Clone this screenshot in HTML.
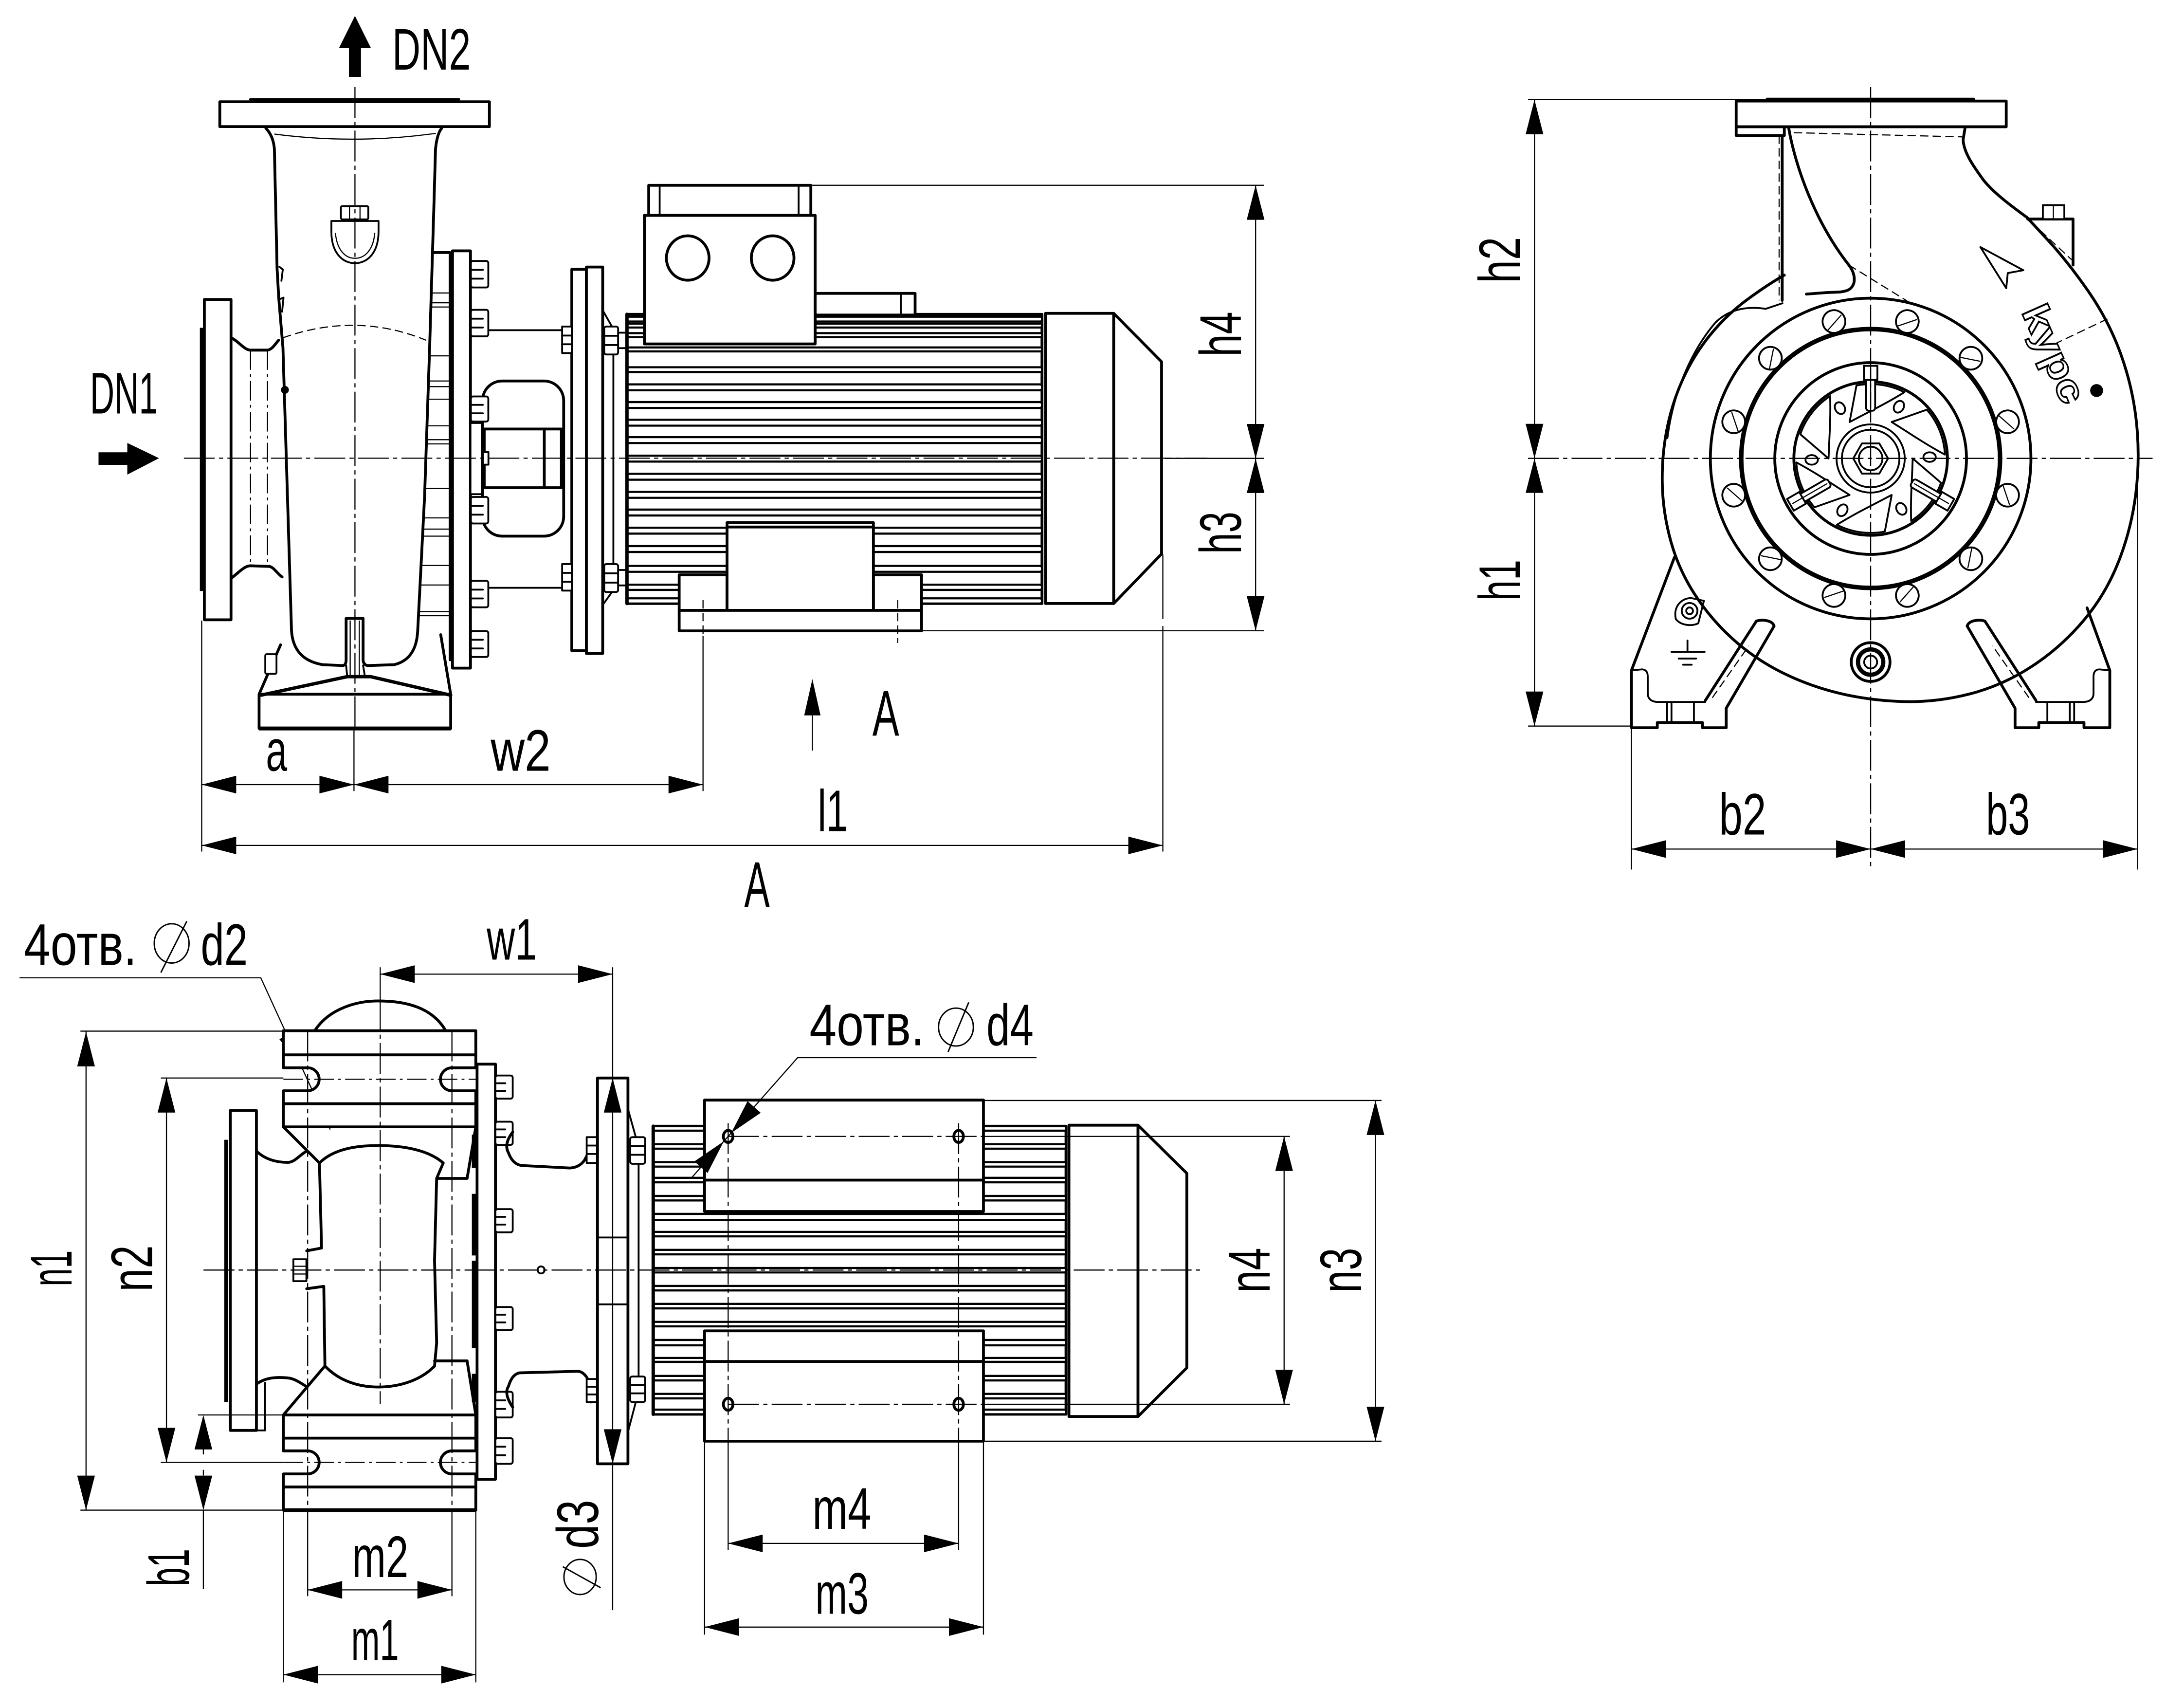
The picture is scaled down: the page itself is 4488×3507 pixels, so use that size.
<!DOCTYPE html>
<html><head><meta charset="utf-8"><title>Pump dimensions</title>
<style>
html,body{margin:0;padding:0;background:#fff;}
svg{display:block}
text{font-family:"Liberation Sans","DejaVu Sans",sans-serif;fill:#000}
.k{fill:none;stroke:#000;stroke-width:2;stroke-linejoin:round;stroke-linecap:round}
.m{fill:none;stroke:#000;stroke-width:1.3;stroke-linejoin:round;stroke-linecap:round}
.t{fill:none;stroke:#000;stroke-width:0.8}
.c{fill:none;stroke:#000;stroke-width:0.8;stroke-dasharray:22 3 3 3}
.dd{fill:none;stroke:#000;stroke-width:0.8;stroke-dasharray:6 3}
.w{fill:#fff}
.f{fill:#000;stroke:none}
</style></head><body>
<svg xmlns="http://www.w3.org/2000/svg" width="4488" height="3507" viewBox="0 0 4488 3507">
<rect width="4488" height="3507" fill="#fff"/>
<g transform="scale(2.8842)">

<!-- ================= TOP (SIDE) VIEW ================= -->
<!-- DN2 arrow & label -->
<polygon class="f" points="252.9,11.3 241.5,34.3 248.6,34.3 248.6,54.8 257.2,54.8 257.2,34.3 264.3,34.3"/>
<text x="279.4" y="49.5" font-size="42" textLength="56" lengthAdjust="spacingAndGlyphs">DN2</text>
<!-- DN1 arrow & label -->
<text x="64.1" y="294.5" font-size="42" textLength="48.3" lengthAdjust="spacingAndGlyphs">DN1</text>
<polygon class="f" points="70.2,322.2 90.7,322.2 90.7,315.5 113.3,326.4 90.7,338.1 90.7,331.1 70.2,331.1"/>

<!-- outlet flange -->
<rect class="k w" x="156.6" y="72.5" width="192.1" height="17.7"/>
<line class="k" x1="178.5" y1="70.8" x2="326.8" y2="70.8"/>
<!-- casing outline -->
<path class="k" d="M189.4,91.3 C193,95 195,100 195.5,106.1 L197.4,191 L198.6,212.3 L201.6,247.7 L207.7,449.3 C208.5,462 215,471 230,473.5 L244.1,474.1 C246,474 246.6,472 246.6,470 L246.6,440.5 L258.7,440.5 L258.7,470 C258.7,472 260,474 262,474.1 L280.6,473.5 C292,471 297,462 297.6,449.3 L302.5,353.8 L306.1,247.7 L309.3,141.5 L310.3,106.1 C311,99 312.5,94 314.7,91.3"/>
<path class="t" d="M195.5,95.5 Q253,103 310.5,95"/>
<path class="dd" d="M201.6,240.6 Q253.9,222 303.7,242.4"/>
<line class="t" x1="249.5" y1="442" x2="249.5" y2="481"/>
<line class="t" x1="256" y1="442" x2="256" y2="481"/>
<!-- drain plug on neck -->
<path class="m w" d="M236.1,157.4 L236.1,165 C236.1,180 244,187.5 252.9,187.5 C261.8,187.5 269.7,180 269.7,165 L269.7,157.4 Z"/>
<path class="t" d="M239,166 C240,178 246,184 252.9,184 C260,184 266,178 267,166"/>
<rect class="m w" x="242.9" y="146.8" width="19.5" height="9.5" rx="1"/>
<line class="t" x1="249" y1="146.8" x2="249" y2="156.3"/>
<line class="t" x1="256.5" y1="146.8" x2="256.5" y2="156.3"/>
<circle class="f" cx="203" cy="277.7" r="2.8"/>
<path class="m" d="M199,190 L201.5,192 L200.5,200"/>
<path class="m" d="M199.5,213 L202,212 L201,222"/>
<!-- inlet flange -->
<rect class="k w" x="145.6" y="213.3" width="19" height="228.2"/>
<rect class="f" x="142.4" y="233.5" width="3.2" height="187.5"/>
<path class="k" d="M164.6,240.6 C170,243 174,249.4 178.5,249.4 L190.6,249.4 C194,249 196,245 198.5,242.4"/>
<path class="k" d="M164.6,412 C170,408 174,403 178.5,403 L191.9,403.5 C195,404 197,408 201,411"/>
<line class="c" x1="178.5" y1="249.4" x2="178.5" y2="403" style="stroke-dasharray:14 3 2 3"/>
<line class="c" x1="190.6" y1="249.4" x2="190.6" y2="403" style="stroke-dasharray:14 3 2 3"/>
<!-- foot -->
<path class="k" d="M184.6,494.5 L199.9,459.3"/>
<path class="k" d="M321.1,494.5 L314,452.1"/>
<rect class="k w" x="184.6" y="494.5" width="136.5" height="24.4"/>
<line x1="184.6" y1="518.9" x2="321.1" y2="518.9" stroke="#000" stroke-width="2.8"/>
<path class="k" d="M185.9,495.2 L247.4,482 L264,482 L321.1,495.2" style="stroke-width:2.4"/>
<line class="m" x1="246.6" y1="474" x2="247.4" y2="482"/>
<line class="m" x1="258.7" y1="474" x2="260" y2="482"/>
<rect class="m w" x="189" y="466" width="8" height="14" rx="1"/>
<!-- ribbed column -->
<path class="k" d="M308.4,179.9 L320.7,179.9 L320.7,470"/>
<g class="t">
<line x1="307.2" y1="208.7" x2="320.7" y2="208.7"/><line x1="307" y1="215.7" x2="320.7" y2="215.7"/><line x1="307" y1="218.7" x2="320.7" y2="218.7"/>
<line x1="305.7" y1="253.5" x2="320.7" y2="253.5"/><line x1="305.2" y1="271.4" x2="320.7" y2="271.4"/><line x1="305" y1="275.4" x2="320.7" y2="275.4"/>
<line x1="304.8" y1="284.4" x2="320.7" y2="284.4"/><line x1="304.2" y1="303.3" x2="320.7" y2="303.3"/><line x1="303.9" y1="313.2" x2="320.7" y2="313.2"/>
<line x1="303.8" y1="316.2" x2="320.7" y2="316.2"/><line x1="302.7" y1="348" x2="320.7" y2="348"/><line x1="302" y1="368.9" x2="320.7" y2="368.9"/>
<line x1="301.6" y1="376.9" x2="320.7" y2="376.9"/><line x1="301.3" y1="381.9" x2="320.7" y2="381.9"/><line x1="300.1" y1="402.8" x2="320.7" y2="402.8"/>
<line x1="299.4" y1="416.7" x2="320.7" y2="416.7"/><line x1="298.3" y1="435.6" x2="320.7" y2="435.6"/><line x1="298.2" y1="438.6" x2="320.7" y2="438.6"/>
</g>
<!-- casing flange -->
<rect class="k w" x="322.4" y="178.7" width="12.8" height="297.2"/>
<!-- bracket / coupling window -->
<line class="m" x1="347.9" y1="235.2" x2="400.5" y2="235.2"/>
<line class="m" x1="347.9" y1="418.7" x2="400.5" y2="418.7"/>
<rect class="k w" x="343.8" y="271.4" width="57.8" height="110.5" rx="14"/>
<rect class="k w" x="345" y="305.6" width="55" height="41.8"/>
<line class="k" x1="387.8" y1="305.6" x2="387.8" y2="347.4"/>
<rect class="m w" x="335.2" y="301.3" width="8.1" height="50.7"/>
<rect class="m w" x="344" y="322" width="4" height="9"/>
<!-- bolts on casing flange -->
<g class="m">
<rect class="w" x="335.5" y="185.9" width="12.4" height="18.9" rx="1.5"/><line x1="335.5" y1="192.2" x2="344" y2="192.2"/><line x1="335.5" y1="198.5" x2="344" y2="198.5"/>
<rect class="w" x="335.5" y="220.7" width="12.4" height="18.9" rx="1.5"/><line x1="335.5" y1="227" x2="344" y2="227"/><line x1="335.5" y1="233.3" x2="344" y2="233.3"/>
<rect class="w" x="335.5" y="282.4" width="12.4" height="17.9" rx="1.5"/><line x1="335.5" y1="288.4" x2="344" y2="288.4"/><line x1="335.5" y1="294.4" x2="344" y2="294.4"/>
<rect class="w" x="335.5" y="354" width="12.4" height="18.9" rx="1.5"/><line x1="335.5" y1="360.3" x2="344" y2="360.3"/><line x1="335.5" y1="366.6" x2="344" y2="366.6"/>
<rect class="w" x="335.5" y="413.7" width="12.4" height="18.9" rx="1.5"/><line x1="335.5" y1="420" x2="344" y2="420"/><line x1="335.5" y1="426.3" x2="344" y2="426.3"/>
<rect class="w" x="335.5" y="449.5" width="12.4" height="18.5" rx="1.5"/><line x1="335.5" y1="455.7" x2="344" y2="455.7"/><line x1="335.5" y1="461.9" x2="344" y2="461.9"/>
</g>
<!-- motor flange -->
<rect class="k w" x="407.4" y="191.8" width="10.4" height="271.7"/>
<rect class="k w" x="417.8" y="190.2" width="11.6" height="275.3"/>
<g class="m">
<rect class="w" x="400.5" y="232.6" width="6.9" height="18.9"/><line x1="400.5" y1="239" x2="407.4" y2="239"/><line x1="400.5" y1="245.2" x2="407.4" y2="245.2"/>
<rect class="w" x="400.5" y="401.8" width="6.9" height="18.9"/><line x1="400.5" y1="408.1" x2="407.4" y2="408.1"/><line x1="400.5" y1="414.4" x2="407.4" y2="414.4"/>
<rect class="w" x="430.5" y="232.6" width="9.9" height="19.9" rx="1.5"/><line x1="430.5" y1="239.2" x2="440.4" y2="239.2"/><line x1="430.5" y1="245.8" x2="440.4" y2="245.8"/>
<rect class="w" x="430.5" y="401.8" width="9.9" height="19.9" rx="1.5"/><line x1="430.5" y1="408.4" x2="440.4" y2="408.4"/><line x1="430.5" y1="415" x2="440.4" y2="415"/>
<rect class="w" x="440.4" y="237" width="6.3" height="11"/>
<rect class="w" x="440.4" y="406" width="6.3" height="11"/>
<line x1="429.4" y1="221" x2="436" y2="232.6"/>
<line x1="429.4" y1="431" x2="436" y2="421.7"/>
<line x1="437" y1="252.5" x2="437" y2="401.8"/>
</g>
<!-- motor body -->
<rect class="k w" x="446.7" y="223.9" width="295.7" height="206"/>
<g fill="#fff" stroke="#000" stroke-width="1.5">
<rect x="446.7" y="225.6" width="295.7" height="3.4" rx="1.2"/>
<rect x="446.7" y="230.5" width="295.7" height="2.8" rx="1.2"/>
<rect x="446.7" y="237.3" width="295.7" height="2.8" rx="1.2"/>
<rect x="446.7" y="247.5" width="295.7" height="2.8" rx="1.2"/>
<rect x="446.7" y="261.6" width="295.7" height="3.4" rx="1.2"/>
<rect x="446.7" y="273.8" width="295.7" height="4.2" rx="1.5"/>
<rect x="446.7" y="286.4" width="295.7" height="4.2" rx="1.5"/>
<rect x="446.7" y="299" width="295.7" height="4.2" rx="1.5"/>
<rect x="446.7" y="311.4" width="295.7" height="4.2" rx="1.5"/>
<rect x="446.7" y="324.6" width="295.7" height="4.2" rx="1.5"/>
<rect x="446.7" y="337.5" width="295.7" height="4.2" rx="1.5"/>
<rect x="446.7" y="350.4" width="295.7" height="4.2" rx="1.5"/>
<rect x="446.7" y="363" width="295.7" height="4.2" rx="1.5"/>
<rect x="446.7" y="375.9" width="295.7" height="4.2" rx="1.5"/>
<rect x="446.7" y="389" width="295.7" height="4.2" rx="1.5"/>
<rect x="446.7" y="403.1" width="295.7" height="4.2" rx="1.5"/>
<rect x="446.7" y="416.5" width="295.7" height="3.7" rx="1.5"/>
<rect x="446.7" y="426.2" width="295.7" height="3.7" rx="1.5"/>
</g>
<line class="k" x1="446.7" y1="223.9" x2="446.7" y2="429.9" style="stroke-width:2.4"/>
<!-- terminal box -->
<rect class="k w" x="462.2" y="132" width="115.5" height="21.4"/>
<line class="m" x1="470" y1="132" x2="470" y2="153.4"/>
<line class="m" x1="569" y1="132" x2="569" y2="153.4"/>
<rect class="k w" x="459.1" y="153.4" width="121.7" height="91.6"/>
<ellipse class="k" cx="490" cy="183.8" rx="15.2" ry="15.8"/>
<ellipse class="k" cx="550.5" cy="183.8" rx="15.2" ry="15.8"/>
<rect class="k w" x="580.8" y="209" width="71.2" height="15.4"/>
<line class="m" x1="641.8" y1="209" x2="641.8" y2="224.4"/>
<!-- fan cover -->
<rect class="k w" x="744.9" y="223.2" width="48.6" height="206.7"/>
<polygon class="k w" points="793.5,223.2 827.6,257.7 827.6,394.6 793.5,429.9"/>
<!-- motor foot -->
<rect class="k w" x="483.9" y="409.4" width="34.1" height="25.4"/>
<rect class="k w" x="622.3" y="409.4" width="34.3" height="25.4"/>
<rect class="k w" x="518" y="372.3" width="104.3" height="62.5"/>
<line class="k" x1="518" y1="375.4" x2="622.3" y2="375.4"/>
<rect class="k w" x="483.9" y="434.8" width="172.7" height="14.6"/>
<line class="dd" x1="500.9" y1="427.5" x2="500.9" y2="452.8"/>
<line class="dd" x1="639.6" y1="427.5" x2="639.6" y2="458"/>

<!-- centerlines top view -->
<line class="c" x1="252.9" y1="62" x2="252.9" y2="520"/>
<line class="c" x1="131" y1="326.4" x2="860" y2="326.4"/>
<line class="t" x1="830" y1="326.5" x2="900.6" y2="326.5"/>

<!-- dims top view -->
<g class="t">
<line x1="578.3" y1="132" x2="900.6" y2="132"/>
<line x1="656.6" y1="449.3" x2="900.6" y2="449.3"/>
<line x1="894.6" y1="132" x2="894.6" y2="449.3"/>
<line x1="828.5" y1="395" x2="828.5" y2="441"/>
<line x1="828.5" y1="446" x2="828.5" y2="606.6"/>
<line x1="500.9" y1="452.8" x2="500.9" y2="563.5"/>
<line x1="252.2" y1="520" x2="252.2" y2="563.5"/>
<line x1="143.7" y1="442" x2="143.7" y2="606.6"/>
<line x1="143.7" y1="558.9" x2="500.9" y2="558.9"/>
<line x1="143.7" y1="602.2" x2="828.5" y2="602.2"/>
<line x1="578.8" y1="505" x2="578.8" y2="534.7"/>
</g>
<g class="f">
<polygon points="894.6,132 888.3,156.6 900.9,156.6"/>
<polygon points="894.6,326.6 888.3,302 900.9,302"/>
<polygon points="894.6,326.6 888.3,351.2 900.9,351.2"/>
<polygon points="894.6,449.3 888.3,424.7 900.9,424.7"/>
<polygon points="143.7,558.9 168.3,552.6 168.3,565.2"/>
<polygon points="252.2,558.9 227.6,552.6 227.6,565.2"/>
<polygon points="252.2,558.9 276.8,552.6 276.8,565.2"/>
<polygon points="500.9,558.9 476.3,552.6 476.3,565.2"/>
<polygon points="143.7,602.2 168.3,595.9 168.3,608.5"/>
<polygon points="828.5,602.2 803.9,595.9 803.9,608.5"/>
<polygon points="578.8,483.7 573,509.6 584.6,509.6"/>
</g>
<text transform="translate(884.2,254) rotate(-90)" font-size="42" textLength="32" lengthAdjust="spacingAndGlyphs">h4</text>
<text transform="translate(884.2,394.5) rotate(-90)" font-size="42" textLength="30" lengthAdjust="spacingAndGlyphs">h3</text>
<text x="189.4" y="549" font-size="42" textLength="15.2" lengthAdjust="spacingAndGlyphs">a</text>
<text x="349.6" y="549" font-size="42" textLength="42.8" lengthAdjust="spacingAndGlyphs">w2</text>
<text x="582.6" y="592" font-size="42" textLength="21.4" lengthAdjust="spacingAndGlyphs">l1</text>
<text x="530.3" y="646" font-size="46" textLength="18.1" lengthAdjust="spacingAndGlyphs">A</text>
<text x="621.6" y="524" font-size="46" textLength="19" lengthAdjust="spacingAndGlyphs">A</text>

<!-- ================= RIGHT (FRONT) VIEW ================= -->
<!-- volute outer contour -->
<path class="k" d="M1400.2,90.3 L1398.7,99.4 C1399,108 1405,117 1413,128 C1420,137 1432,146 1444.2,154.9 L1458.65,170.55 Q1473.1,186.2 1487.8,207.35 Q1502.5,228.5 1511.1,252.45 Q1519.7,276.4 1522.25,301.45 Q1524.8,326.5 1521.75,351.4 Q1518.7,376.3 1509.55,399.8 Q1500.4,423.3 1484.15,442.45 Q1467.9,461.6 1447.1,475.05 Q1426.3,488.5 1402.85,494.45 Q1379.4,500.4 1356.1,499.75 Q1332.8,499.1 1311.05,493.95 Q1289.3,488.8 1269.8,479.1 Q1250.3,469.4 1234.45,455.05 Q1218.6,440.7 1207.3,423.1 Q1196,405.5 1190.5,385.8 Q1185,366.1 1184.4,346.3 Q1183.8,326.5 1187.3,307.5 Q1190.8,288.5 1198.6,271 Q1206.4,253.5 1218.35,238.75 Q1230.3,224 1245.55,212.9 Q1260.8,201.8 1271.3,196"/>
<path class="m" d="M1188,312 C1192,280 1205,250 1222,230 C1232,220 1245,218 1258,220 L1270,216"/>
<!-- outlet neck -->
<line class="k" x1="1269.8" y1="96.5" x2="1269.8" y2="214"/>
<line class="dd" x1="1267.6" y1="96.5" x2="1267.6" y2="214"/>
<path class="k" d="M1274.4,91 C1279,118 1293,158 1317.3,188.8 C1322,195 1323,203 1317,206.5 C1313,208.5 1308,208 1300,208.5 L1287,209.5"/>
<path class="dd" d="M1317.3,188.8 L1358.8,214.4"/>
<path class="dd" d="M1278,94.5 L1398,97.5"/>
<path class="dd" d="M1455.5,249 L1501.5,227.2"/>
<!-- top flange -->
<rect class="k w" x="1237" y="72" width="192.4" height="18.3"/>
<line class="k" x1="1259" y1="70.6" x2="1406.3" y2="70.6"/>
<rect class="k w" x="1237" y="90.3" width="34.3" height="6.2"/>
<!-- concentric circles -->
<circle class="k" cx="1332.8" cy="326.6" r="114.2"/>
<circle fill="none" stroke="#000" stroke-width="3.2" cx="1332.8" cy="326.6" r="92.2"/>
<circle class="k" cx="1332.8" cy="326.6" r="68.3"/>
<circle class="k" cx="1332.8" cy="326.6" r="54.7"/>
<circle class="m" cx="1332.8" cy="326.6" r="24.3"/>
<circle class="m" cx="1332.8" cy="326.6" r="20.5"/>
<g transform="translate(1332.8,326.6)">
<polygon class="m w" points="12.4,0 6.2,10.74 -6.2,10.74 -12.4,0 -6.2,-10.74 6.2,-10.74"/>
<circle class="m" cx="0" cy="0" r="8.4"/>
<!-- vanes -->
<g class="m">
<g transform="rotate(-60)"><path d="M30,0 L50.11,17.26 A53,53 0 0 1 28.87,44.45 C28.28,28.28 29.67,11.99 29.84,3.14 Z"/><ellipse cx="42" cy="-1" rx="4.4" ry="3.4"/></g>
<g transform="rotate(0)"><path d="M30,0 L50.11,17.26 A53,53 0 0 1 28.87,44.45 C28.28,28.28 29.67,11.99 29.84,3.14 Z"/><ellipse cx="42" cy="-1" rx="4.4" ry="3.4"/></g>
<g transform="rotate(60)"><path d="M30,0 L50.11,17.26 A53,53 0 0 1 28.87,44.45 C28.28,28.28 29.67,11.99 29.84,3.14 Z"/><ellipse cx="42" cy="-1" rx="4.4" ry="3.4"/></g>
<g transform="rotate(120)"><path d="M30,0 L50.11,17.26 A53,53 0 0 1 28.87,44.45 C28.28,28.28 29.67,11.99 29.84,3.14 Z"/><ellipse cx="42" cy="-1" rx="4.4" ry="3.4"/></g>
<g transform="rotate(180)"><path d="M30,0 L50.11,17.26 A53,53 0 0 1 28.87,44.45 C28.28,28.28 29.67,11.99 29.84,3.14 Z"/><ellipse cx="42" cy="-1" rx="4.4" ry="3.4"/></g>
<g transform="rotate(240)"><path d="M30,0 L50.11,17.26 A53,53 0 0 1 28.87,44.45 C28.28,28.28 29.67,11.99 29.84,3.14 Z"/><ellipse cx="42" cy="-1" rx="4.4" ry="3.4"/></g>
</g>
<!-- pins -->
<g class="m">
<g transform="rotate(-90)"><rect class="w" x="34" y="-3.2" width="23" height="6.4" rx="2"/><rect class="w" x="56" y="-4.8" width="10" height="9.6"/><line x1="36" y1="0" x2="64" y2="0" class="t"/></g>
<g transform="rotate(30)"><rect class="w" x="34" y="-3.2" width="23" height="6.4" rx="2"/><rect class="w" x="56" y="-4.8" width="10" height="9.6"/><line x1="36" y1="0" x2="64" y2="0" class="t"/></g>
<g transform="rotate(150)"><rect class="w" x="34" y="-3.2" width="23" height="6.4" rx="2"/><rect class="w" x="56" y="-4.8" width="10" height="9.6"/><line x1="36" y1="0" x2="64" y2="0" class="t"/></g>
</g>
<!-- flange bolt holes -->
<g class="m">
<g transform="rotate(15)"><circle class="w" cx="101" cy="0" r="8.1"/><line class="t" x1="96" y1="-6" x2="104" y2="6"/></g>
<g transform="rotate(45)"><circle class="w" cx="101" cy="0" r="8.1"/><line class="t" x1="96" y1="-6" x2="104" y2="6"/></g>
<g transform="rotate(75)"><circle class="w" cx="101" cy="0" r="8.1"/><line class="t" x1="96" y1="-6" x2="104" y2="6"/></g>
<g transform="rotate(105)"><circle class="w" cx="101" cy="0" r="8.1"/><line class="t" x1="96" y1="-6" x2="104" y2="6"/></g>
<g transform="rotate(135)"><circle class="w" cx="101" cy="0" r="8.1"/><line class="t" x1="96" y1="-6" x2="104" y2="6"/></g>
<g transform="rotate(165)"><circle class="w" cx="101" cy="0" r="8.1"/><line class="t" x1="96" y1="-6" x2="104" y2="6"/></g>
<g transform="rotate(195)"><circle class="w" cx="101" cy="0" r="8.1"/><line class="t" x1="96" y1="-6" x2="104" y2="6"/></g>
<g transform="rotate(225)"><circle class="w" cx="101" cy="0" r="8.1"/><line class="t" x1="96" y1="-6" x2="104" y2="6"/></g>
<g transform="rotate(255)"><circle class="w" cx="101" cy="0" r="8.1"/><line class="t" x1="96" y1="-6" x2="104" y2="6"/></g>
<g transform="rotate(285)"><circle class="w" cx="101" cy="0" r="8.1"/><line class="t" x1="96" y1="-6" x2="104" y2="6"/></g>
<g transform="rotate(315)"><circle class="w" cx="101" cy="0" r="8.1"/><line class="t" x1="96" y1="-6" x2="104" y2="6"/></g>
<g transform="rotate(345)"><circle class="w" cx="101" cy="0" r="8.1"/><line class="t" x1="96" y1="-6" x2="104" y2="6"/></g>
</g>
</g>
<!-- bottom drain plug -->
<circle class="k w" cx="1332.8" cy="471.6" r="13.8"/>
<circle fill="none" stroke="#000" stroke-width="3" cx="1332.8" cy="471.6" r="9"/>
<circle class="m" cx="1332.8" cy="471.6" r="4.6"/>
<!-- top-right plug -->
<path class="k" d="M1444.7,156 L1477,156 L1477,188.8"/>
<path class="dd" d="M1447,158 L1476,185"/>
<rect class="m w" x="1455.5" y="146.1" width="15.3" height="10"/>
<line class="t" x1="1463" y1="146.1" x2="1463" y2="156"/>
<!-- direction triangle -->
<polygon class="m" points="1411,176 1441.6,192.5 1430.5,194.5 1429.4,205.3"/>
<!-- logo -->
<text transform="translate(1440,222) rotate(66)" font-size="27" font-weight="bold" textLength="74" lengthAdjust="spacingAndGlyphs" style="fill:#fff;stroke:#000;stroke-width:1.1">kypc</text>
<circle class="f" cx="1493.8" cy="278.2" r="4.6"/>
<!-- left foot -->
<path class="k" d="M1193,397 L1162.4,477.5 L1162.4,518.4 L1180.8,518.4 L1180.8,514.7 L1213,514.7 L1213,518.4 L1229.9,518.4 L1229.9,504.5 L1264,446"/>
<path class="k" d="M1264,446 C1263,442 1256,441 1251.4,442.4 L1215,499"/>
<path class="m" d="M1162.4,477.5 L1170,476.8 C1173,477 1174,479 1174,482 L1174,494 C1174,498 1177,500 1181,500 L1215,500"/>
<g class="m"><line x1="1187.8" y1="500" x2="1187.8" y2="514.7"/><line x1="1190.9" y1="500" x2="1190.9" y2="514.7"/><line x1="1206.9" y1="500" x2="1206.9" y2="514.7"/></g>
<path class="dd" d="M1220,497 L1246,460"/>
<g class="m"><line x1="1202.3" y1="456.3" x2="1202.3" y2="464.3"/><line x1="1190.9" y1="464.3" x2="1214.5" y2="464.3"/><line x1="1196.1" y1="469.1" x2="1208.4" y2="469.1"/><line x1="1199.2" y1="473.5" x2="1205.3" y2="473.5"/></g>
<path class="m" d="M1194,441 C1192,432 1198,426 1205,426 L1214,428 L1210,444 C1206,446 1198,446 1194,441 Z"/>
<circle class="m" cx="1203.8" cy="435.1" r="5.6"/>
<circle class="m" cx="1203.8" cy="435.1" r="2.4"/>
<!-- right foot -->
<path class="k" d="M1487,433 L1503.2,477.5 L1503.2,518.4 L1484.8,518.4 L1484.8,514.7 L1452.6,514.7 L1452.6,518.4 L1435.7,518.4 L1435.7,504.5 L1401.6,446"/>
<path class="k" d="M1401.6,446 C1402.6,442 1409.6,441 1414.2,442.4 L1450.6,499"/>
<path class="m" d="M1503.2,477.5 L1495.6,476.8 C1492.6,477 1491.6,479 1491.6,482 L1491.6,494 C1491.6,498 1488.6,500 1484.6,500 L1450.6,500"/>
<g class="m"><line x1="1477.8" y1="500" x2="1477.8" y2="514.7"/><line x1="1474.7" y1="500" x2="1474.7" y2="514.7"/><line x1="1458.7" y1="500" x2="1458.7" y2="514.7"/></g>
<path class="dd" d="M1445.6,497 L1419.6,460"/>
<!-- centerlines right view -->
<line class="c" x1="1332.8" y1="62" x2="1332.8" y2="619.4"/>
<line class="c" x1="1088.7" y1="326.5" x2="1533.7" y2="326.5"/>
<!-- dims right view -->
<g class="t">
<line x1="1088.7" y1="70.8" x2="1259" y2="70.8"/>
<line x1="1088.7" y1="517.2" x2="1162.4" y2="517.2"/>
<line x1="1093.3" y1="70.8" x2="1093.3" y2="517.2"/>
<line x1="1162.4" y1="519" x2="1162.4" y2="619.4"/>
<line x1="1523" y1="343.9" x2="1523" y2="619.4"/>
<line x1="1162.4" y1="604.8" x2="1523" y2="604.8"/>
</g>
<g class="f">
<polygon points="1093.3,71 1087,95.6 1099.6,95.6"/>
<polygon points="1093.3,326.5 1087,301.9 1099.6,301.9"/>
<polygon points="1093.3,326.5 1087,351.1 1099.6,351.1"/>
<polygon points="1093.3,517.2 1087,492.6 1099.6,492.6"/>
<polygon points="1162.4,604.8 1187,598.5 1187,611.1"/>
<polygon points="1332.8,604.8 1308.2,598.5 1308.2,611.1"/>
<polygon points="1332.8,604.8 1357.4,598.5 1357.4,611.1"/>
<polygon points="1523,604.8 1498.4,598.5 1498.4,611.1"/>
</g>
<text transform="translate(1083,201.6) rotate(-90)" font-size="42" textLength="32.8" lengthAdjust="spacingAndGlyphs">h2</text>
<text transform="translate(1083,427.9) rotate(-90)" font-size="42" textLength="29.2" lengthAdjust="spacingAndGlyphs">h1</text>
<text x="1224.7" y="594.5" font-size="42" textLength="33.7" lengthAdjust="spacingAndGlyphs">b2</text>
<text x="1415" y="594.5" font-size="42" textLength="31.3" lengthAdjust="spacingAndGlyphs">b3</text>

<!-- ================= PLAN VIEW ================= -->
<!-- 4отв. Ød2 -->
<text x="17" y="687.3" font-size="42" textLength="80.5" lengthAdjust="spacingAndGlyphs">4отв.</text>
<ellipse class="t" cx="122.3" cy="672" rx="12.4" ry="14" style="stroke-width:1"/>
<line class="t" x1="114.6" y1="692.8" x2="133.1" y2="656.2" style="stroke-width:1"/>
<text x="143" y="687.3" font-size="42" textLength="33.5" lengthAdjust="spacingAndGlyphs">d2</text>
<polyline class="t" points="13.9,696.5 185.8,696.5 235.3,804.6"/>
<polygon class="f" points="214.9,760 210.4,735 199,740.2"/>
<polygon class="f" points="222.7,777.1 238.6,796.9 227.2,802.1"/>
<!-- w1 -->
<text x="346.8" y="683.6" font-size="42" textLength="35.6" lengthAdjust="spacingAndGlyphs">w1</text>
<line class="t" x1="270.9" y1="693.9" x2="436.5" y2="693.9"/>
<line class="t" x1="270.9" y1="689" x2="270.9" y2="712"/>
<line class="t" x1="436.5" y1="689" x2="436.5" y2="1147"/>
<polygon class="f" points="270.9,693.9 295.5,687.6 295.5,700.2"/>
<polygon class="f" points="436.5,693.9 411.9,687.6 411.9,700.2"/>

<!-- pump casing plan -->
<path class="k w" d="M224.5,733.8 C235,718 255,713 269.4,713 C290,713 308,718 317.3,733.8"/>
<path class="k w" d="M201.9,734.2 L339,734.2 L339,760.6 L322,760.6 A8.2,8.2 0 0 0 322,777 L339,777 L339,802.7 L201.9,802.7 L201.9,777 L219.2,777 A8.2,8.2 0 0 0 219.2,760.6 L201.9,760.6 Z"/>
<line class="k" x1="201.9" y1="751.4" x2="339" y2="751.4"/>
<line class="k" x1="201.9" y1="786.2" x2="339" y2="786.2"/>
<path class="k w" d="M201.9,1007.9 L339,1007.9 L339,1033.5 L322,1033.5 A8.2,8.2 0 0 0 322,1049.9 L339,1049.9 L339,1075.7 L201.9,1075.7 L201.9,1049.9 L219.2,1049.9 A8.2,8.2 0 0 0 219.2,1033.5 L201.9,1033.5 Z"/>
<line class="k" x1="201.9" y1="1024.4" x2="339" y2="1024.4"/>
<line class="k" x1="201.9" y1="1059.2" x2="339" y2="1059.2"/>
<line x1="201.9" y1="1075.7" x2="339" y2="1075.7" stroke="#000" stroke-width="2.6"/>
<!-- chamfers -->
<path class="k" d="M201.9,802.7 L227.6,828.4"/>
<path class="k" d="M339,802.7 L332.8,839.4 L311.1,839.4"/>
<path class="k" d="M201.9,1007.9 L231.5,973"/>
<path class="k" d="M339,1007.9 L332.8,969.4 L309.6,969.4"/>
<!-- volute body -->
<path class="k" d="M227.6,828.4 C238,818 255,816 269.4,816 C287,816 305,819 315.8,828.4"/>
<path class="k" d="M231.5,973 C242,984 256,988 269.4,988 C285,988 300,983 309.6,973.1"/>
<path class="k" d="M227.6,828.4 L229.1,889 L218.5,891"/>
<path class="k" d="M218.5,918 L230.7,916.3 L231.5,973"/>
<path class="k" d="M315.8,828.4 L311.1,839.4 L309.6,898 L311.1,956.6 L309.6,973.1"/>
<rect class="m w" x="209" y="897" width="9.3" height="15.6"/>
<line class="t" x1="209" y1="902" x2="218.3" y2="902"/>
<line class="t" x1="209" y1="907.5" x2="218.3" y2="907.5"/>
<!-- inlet flange plan -->
<rect class="k w" x="164.1" y="791" width="18.6" height="227.9"/>
<rect class="f" x="159.8" y="811.9" width="2.8" height="186.8"/>
<line class="m" x1="188.9" y1="985" x2="188.9" y2="1018.9"/>
<line class="m" x1="182.7" y1="1018.9" x2="188.9" y2="1018.9"/>
<path class="k" d="M182.7,820 C188,825 195,828 205,828 C210,828 213,823 218.9,819.7"/>
<path class="k" d="M182.7,985.9 C188,982 195,980.5 205,981.5 C210,982 214,985 218.8,988"/>
<!-- casing flange plan -->
<rect class="k w" x="339.9" y="758" width="13.1" height="295.7"/>
<g class="f">
<rect x="336.2" y="808.2" width="3.4" height="23.8"/>
<rect x="336.2" y="850.4" width="3.4" height="43.9"/>
<rect x="336.2" y="898" width="3.4" height="62.3"/>
<rect x="336.2" y="978.6" width="3.4" height="20.1"/>
</g>
<g class="m">
<rect class="w" x="353" y="766.1" width="12.3" height="16.5" rx="1.5"/><line x1="353" y1="771.6" x2="360" y2="771.6"/><line x1="353" y1="777.1" x2="360" y2="777.1"/>
<rect class="w" x="353" y="799" width="12.3" height="16.5" rx="1.5"/><line x1="353" y1="804.5" x2="360" y2="804.5"/><line x1="353" y1="810" x2="360" y2="810"/>
<rect class="w" x="353" y="861.3" width="12.3" height="16.5" rx="1.5"/><line x1="353" y1="866.8" x2="360" y2="866.8"/><line x1="353" y1="872.3" x2="360" y2="872.3"/>
<rect class="w" x="353" y="931" width="12.3" height="16.5" rx="1.5"/><line x1="353" y1="936.5" x2="360" y2="936.5"/><line x1="353" y1="942" x2="360" y2="942"/>
<rect class="w" x="353" y="991.4" width="12.3" height="18.3" rx="1.5"/><line x1="353" y1="997.5" x2="360" y2="997.5"/><line x1="353" y1="1003.6" x2="360" y2="1003.6"/>
<rect class="w" x="353" y="1024.4" width="12.3" height="18.3" rx="1.5"/><line x1="353" y1="1030.5" x2="360" y2="1030.5"/><line x1="353" y1="1036.6" x2="360" y2="1036.6"/>
</g>
<!-- bracket plan -->
<path class="k" d="M365.3,806.4 C361,812 360,817 362.2,821 C364,826 367,829.5 371.5,830.2 L405.6,832 C410,832 414,830 416.4,826.5 C419,822 420.5,818 421,813.7"/>
<path class="k" d="M365.3,1002.4 C361,996 360,991 362.2,987.7 C364,982 366,979 370,977.9 L411.8,976.8 C415,977 418,980 419.5,984.1 C420.5,989 421,994 421,998.7"/>
<circle class="m" cx="385.5" cy="904.6" r="2.5"/>
<!-- motor flange plan -->
<g class="m">
<rect class="w" x="418" y="810" width="7.7" height="18.4"/><line x1="418" y1="816" x2="425.7" y2="816"/><line x1="418" y1="822" x2="425.7" y2="822"/>
<rect class="w" x="418" y="982.3" width="7.7" height="16.4"/><line x1="418" y1="987.8" x2="425.7" y2="987.8"/><line x1="418" y1="993.3" x2="425.7" y2="993.3"/>
</g>
<rect class="k w" x="425.7" y="767.9" width="21.7" height="274.8"/>
<line class="m" x1="425.7" y1="881.5" x2="447.4" y2="881.5"/>
<line class="m" x1="425.7" y1="929.1" x2="447.4" y2="929.1"/>
<line class="t" x1="436.5" y1="767.9" x2="436.5" y2="1042.7"/>
<polygon class="f" points="436.5,767.9 430.2,792.5 442.8,792.5"/>
<polygon class="f" points="436.5,1042.7 430.2,1018.1 442.8,1018.1"/>
<g class="m">
<rect class="w" x="449" y="810" width="10.7" height="19" rx="1.5"/><line x1="449" y1="816.3" x2="459.7" y2="816.3"/><line x1="449" y1="822.6" x2="459.7" y2="822.6"/>
<rect class="w" x="449" y="980.5" width="10.7" height="18.2" rx="1.5"/><line x1="449" y1="986.5" x2="459.7" y2="986.5"/><line x1="449" y1="992.5" x2="459.7" y2="992.5"/>
<line x1="447.4" y1="790" x2="453" y2="810"/>
<line x1="447.4" y1="1020" x2="453" y2="998.7"/>
<line x1="455" y1="829" x2="455" y2="980.5"/>
</g>
<!-- ∅d3 -->
<text transform="translate(426.2,1103.2) rotate(-90)" font-size="42" textLength="34.8" lengthAdjust="spacingAndGlyphs">d3</text>
<ellipse class="t" cx="413.3" cy="1123.3" rx="11.5" ry="12.5" style="stroke-width:1"/>
<line class="t" x1="401" y1="1116" x2="428" y2="1131" style="stroke-width:1"/>

<!-- motor plan -->
<rect class="k w" x="465.4" y="802.2" width="294.1" height="205.2"/>
<g fill="#fff" stroke="#000" stroke-width="1.5">
<rect x="465.4" y="802.2" width="294.1" height="3.2" rx="1.2"/>
<rect x="465.4" y="815" width="294.1" height="3.2" rx="1.2"/>
<rect x="465.4" y="827.8" width="294.1" height="3.2" rx="1.2"/>
<rect x="465.4" y="839" width="294.1" height="3.2" rx="1.2"/>
<rect x="465.4" y="851.9" width="294.1" height="3.2" rx="1.2"/>
<rect x="465.4" y="864.7" width="294.1" height="4.4" rx="1.2"/>
<rect x="465.4" y="877.5" width="294.1" height="3.2" rx="1.2"/>
<rect x="465.4" y="890.3" width="294.1" height="3.2" rx="1.2"/>
<rect x="465.4" y="903.2" width="294.1" height="3.2" rx="1.2"/>
<rect x="465.4" y="916" width="294.1" height="3.2" rx="1.2"/>
<rect x="465.4" y="928.8" width="294.1" height="3.2" rx="1.2"/>
<rect x="465.4" y="941.6" width="294.1" height="3.2" rx="1.2"/>
<rect x="465.4" y="954.5" width="294.1" height="3.8" rx="1.2"/>
<rect x="465.4" y="967.3" width="294.1" height="2.8" rx="1.2"/>
<rect x="465.4" y="980.1" width="294.1" height="3.2" rx="1.2"/>
<rect x="465.4" y="992.9" width="294.1" height="3.2" rx="1.2"/>
<rect x="465.4" y="1004.1" width="294.1" height="3.3" rx="1.2"/>
</g>
<line class="k" x1="465.4" y1="802.2" x2="465.4" y2="1007.4" style="stroke-width:2.4"/>
<!-- motor feet plan -->
<rect class="k w" x="502" y="783.6" width="198.7" height="79.4"/>
<line class="k" x1="502" y1="840.6" x2="700.7" y2="840.6"/>
<rect class="k w" x="502" y="948" width="198.7" height="78.6"/>
<line class="k" x1="502" y1="969.8" x2="700.7" y2="969.8"/>
<g class="k"><ellipse cx="518.8" cy="809.5" rx="3.4" ry="4.3"/><ellipse cx="683" cy="809.5" rx="3.4" ry="4.3"/><ellipse cx="518.8" cy="1000.3" rx="3.4" ry="4.3"/><ellipse cx="683" cy="1000.3" rx="3.4" ry="4.3"/></g>
<!-- fan cover plan -->
<rect class="k w" x="761.6" y="801.5" width="49.2" height="207.5"/>
<polygon class="k w" points="810.8,801.5 845.6,835.8 845.6,974.3 810.8,1009"/>

<!-- plan centerlines -->
<line class="c" x1="145" y1="904.7" x2="856" y2="904.7"/>
<line class="c" x1="270.9" y1="712" x2="270.9" y2="1000"/>
<line class="c" x1="219.2" y1="734" x2="219.2" y2="1075.7"/>
<line class="c" x1="322" y1="734" x2="322" y2="1075.7"/>
<line class="c" x1="201.9" y1="768.8" x2="340" y2="768.8" style="stroke-dasharray:14 3 2 3"/>
<line class="c" x1="201.9" y1="1041.7" x2="340" y2="1041.7" style="stroke-dasharray:14 3 2 3"/>
<line class="c" x1="518.8" y1="809.5" x2="700" y2="809.5"/>
<line class="c" x1="518.8" y1="1000.3" x2="700" y2="1000.3"/>
<line class="c" x1="518.8" y1="800" x2="518.8" y2="1026.6"/>
<line class="c" x1="683" y1="800" x2="683" y2="1026.6"/>

<!-- plan dims -->
<g class="t">
<line x1="57.3" y1="734.5" x2="201.9" y2="734.5"/>
<line x1="57.3" y1="1075.7" x2="201.9" y2="1075.7"/>
<line x1="61.3" y1="734.5" x2="61.3" y2="1075.7"/>
<line x1="114.6" y1="767.9" x2="201.9" y2="767.9"/>
<line x1="114.6" y1="1041.7" x2="201.9" y2="1041.7"/>
<line x1="118.6" y1="767.9" x2="118.6" y2="1041.7"/>
<line x1="141" y1="1007.9" x2="201.9" y2="1007.9"/>
<line x1="144.9" y1="1032" x2="144.9" y2="1036"/>
<line x1="144.9" y1="1047" x2="144.9" y2="1051"/>
<line x1="144.9" y1="1075.7" x2="144.9" y2="1132"/>
<line x1="201.9" y1="1075.7" x2="201.9" y2="1198.4"/>
<line x1="339" y1="1075.7" x2="339" y2="1198.4"/>
<line x1="219.2" y1="1075.7" x2="219.2" y2="1137"/>
<line x1="322" y1="1075.7" x2="322" y2="1137"/>
<line x1="219.2" y1="1132.5" x2="322" y2="1132.5"/>
<line x1="201.9" y1="1192.9" x2="339" y2="1192.9"/>
<line x1="700" y1="809.5" x2="919.1" y2="809.5"/>
<line x1="700" y1="1000.3" x2="919.1" y2="1000.3"/>
<line x1="914.9" y1="809.5" x2="914.9" y2="1000.3"/>
<line x1="700.7" y1="783.9" x2="984.3" y2="783.9"/>
<line x1="700.7" y1="1026.6" x2="984.3" y2="1026.6"/>
<line x1="980" y1="783.9" x2="980" y2="1026.6"/>
<line x1="518.8" y1="1026.6" x2="518.8" y2="1104"/>
<line x1="683" y1="1026.6" x2="683" y2="1104"/>
<line x1="502" y1="1026.6" x2="502" y2="1164.4"/>
<line x1="700.7" y1="1026.6" x2="700.7" y2="1164.4"/>
<line x1="518.8" y1="1099.4" x2="683" y2="1099.4"/>
<line x1="502" y1="1159" x2="700.7" y2="1159"/>
</g>
<g class="f">
<polygon points="61.3,735 55,759.6 67.6,759.6"/>
<polygon points="61.3,1075.7 55,1051.1 67.6,1051.1"/>
<polygon points="118.6,767.9 112.3,792.5 124.9,792.5"/>
<polygon points="118.6,1041.7 112.3,1017.1 124.9,1017.1"/>
<polygon points="144.9,1007.9 138.6,1032.5 151.2,1032.5"/>
<polygon points="144.9,1075.7 138.6,1051.1 151.2,1051.1"/>
<polygon points="219.2,1132.5 243.8,1126.2 243.8,1138.8"/>
<polygon points="322,1132.5 297.4,1126.2 297.4,1138.8"/>
<polygon points="201.9,1192.9 226.5,1186.6 226.5,1199.2"/>
<polygon points="339,1192.9 314.4,1186.6 314.4,1199.2"/>
<polygon points="914.9,809.5 908.6,834.1 921.2,834.1"/>
<polygon points="914.9,1000.3 908.6,975.7 921.2,975.7"/>
<polygon points="980,783.9 973.7,808.5 986.3,808.5"/>
<polygon points="980,1026.6 973.7,1002 986.3,1002"/>
<polygon points="518.8,1099.4 543.4,1093.1 543.4,1105.7"/>
<polygon points="683,1099.4 658.4,1093.1 658.4,1105.7"/>
<polygon points="502,1159 526.6,1152.7 526.6,1165.3"/>
<polygon points="700.7,1159 676.1,1152.7 676.1,1165.3"/>
</g>
<text transform="translate(51,916.3) rotate(-90)" font-size="42" textLength="25.7" lengthAdjust="spacingAndGlyphs">n1</text>
<text transform="translate(108.3,920) rotate(-90)" font-size="42" textLength="33" lengthAdjust="spacingAndGlyphs">n2</text>
<text transform="translate(134.6,1129.8) rotate(-90)" font-size="42" textLength="26.6" lengthAdjust="spacingAndGlyphs">b1</text>
<text transform="translate(904.6,920.8) rotate(-90)" font-size="42" textLength="32" lengthAdjust="spacingAndGlyphs">n4</text>
<text transform="translate(969.7,920.8) rotate(-90)" font-size="42" textLength="32" lengthAdjust="spacingAndGlyphs">n3</text>
<text x="250.8" y="1123.3" font-size="42" textLength="40.2" lengthAdjust="spacingAndGlyphs">m2</text>
<text x="250.2" y="1182.6" font-size="42" textLength="34" lengthAdjust="spacingAndGlyphs">m1</text>
<text x="578.8" y="1089" font-size="42" textLength="42" lengthAdjust="spacingAndGlyphs">m4</text>
<text x="580.9" y="1149.5" font-size="42" textLength="38" lengthAdjust="spacingAndGlyphs">m3</text>
<!-- 4отв. Ød4 -->
<text x="576.7" y="744.5" font-size="42" textLength="82" lengthAdjust="spacingAndGlyphs">4отв.</text>
<ellipse class="t" cx="681.1" cy="731.6" rx="12.4" ry="13.5" style="stroke-width:1"/>
<line class="t" x1="675.5" y1="749.3" x2="690.2" y2="714" style="stroke-width:1"/>
<text x="702.8" y="744.5" font-size="42" textLength="33.6" lengthAdjust="spacingAndGlyphs">d4</text>
<polyline class="t" points="738.5,753.4 568.3,753.4 492.7,839"/>
<polygon class="f" points="521,807 542,792.7 532.6,784.4"/>
<polygon class="f" points="515.7,813 504.1,835.6 494.7,827.3"/>

</g>
</svg>
</body></html>
